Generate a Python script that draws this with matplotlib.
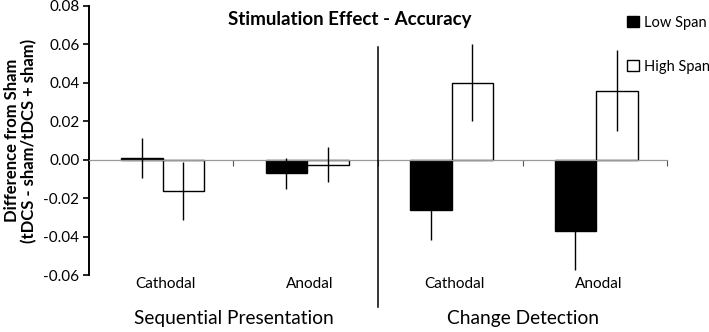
import matplotlib
matplotlib.use("Agg")
import matplotlib.pyplot as plt
from matplotlib.patches import Patch
import numpy as np

plt.rcParams['font.family'] = ['Lato', 'DejaVu Sans']

groups = ["Sequential Presentation", "Change Detection"]
conditions = ["Cathodal", "Anodal", "Cathodal", "Anodal"]
series = ["Low Span", "High Span"]
low_vals = [0.001, -0.007, -0.026, -0.037]
low_err = [0.0105, 0.008, 0.0155, 0.020]
high_vals = [-0.016, -0.0025, 0.040, 0.036]
high_err = [0.015, 0.009, 0.020, 0.021]
yticks = [-0.06, -0.04, -0.02, 0.00, 0.02, 0.04, 0.06, 0.08]

fig = plt.figure(figsize=(7.09, 3.32), dpi=100)
ax = fig.add_axes([0.1255, 0.1702, 0.8153, 0.8118])

x = np.arange(len(conditions)) + 0.5
w = 0.287
ax.bar(x - w/2 + 0.01, low_vals, w, color='black', edgecolor='black', linewidth=1, label=series[0], zorder=2)
ax.bar(x + w/2 + 0.01, high_vals, w, color='white', edgecolor='black', linewidth=1, label=series[1], zorder=2)
ax.errorbar(x - w/2 + 0.01, low_vals, yerr=low_err, fmt='none', ecolor='black', elinewidth=1, capsize=0, zorder=3)
ax.errorbar(x + w/2 + 0.01, high_vals, yerr=high_err, fmt='none', ecolor='black', elinewidth=1, capsize=0, zorder=3)

ax.set_xlim(0, 4)
ax.set_ylim(-0.06, 0.08)
ax.set_yticks(yticks)
ax.set_yticklabels([f"{v:.2f}" for v in yticks], fontsize=11)
ax.set_xticks([0, 1, 2, 3, 4])
ax.set_xticklabels([])
ax.tick_params(axis='x', direction='out', length=4, width=0.8, color='#555555')
ax.tick_params(axis='y', direction='out', length=4, width=1.2, pad=3)

ax.spines['top'].set_visible(False)
ax.spines['right'].set_visible(False)
ax.spines['bottom'].set_position(('data', 0))
ax.spines['bottom'].set_color('#999999')
ax.spines['bottom'].set_linewidth(0.9)
ax.spines['left'].set_linewidth(1.4)

# divider between groups
div_x = 2
div_top, div_bot = 0.0587, -0.0762
ax.plot([div_x, div_x], [div_top, div_bot], color='black', lw=1.1, clip_on=False, zorder=4)

# condition labels
for xi, c in zip(x, conditions):
    ax.text(xi + 0.03, -0.0642, c, ha='center', va='center', fontsize=11)
# group labels
for gi, g in enumerate(groups):
    ax.text(1 + 2*gi, -0.0825, g, ha='center', va='center', fontsize=13.8)

fig.text(0.494, 0.94, "Stimulation Effect - Accuracy", ha='center', va='center',
         fontsize=13.5, fontweight='bold')
ax.set_ylabel("Difference from Sham\n(tDCS - sham/tDCS + sham)", fontsize=12, fontweight='bold',
              labelpad=4, linespacing=1.1)

handles = [Patch(facecolor='black', edgecolor='black', label=series[0]),
           Patch(facecolor='white', edgecolor='black', label=series[1])]
fig.legend(handles=handles, loc='upper left', bbox_to_anchor=(0.885, 0.952), frameon=False,
           fontsize=10.5, labelspacing=2.05, handlelength=0.8, handleheight=0.8, handletextpad=0.3,
           borderaxespad=0, borderpad=0)

fig.savefig("out.png", dpi=100)
